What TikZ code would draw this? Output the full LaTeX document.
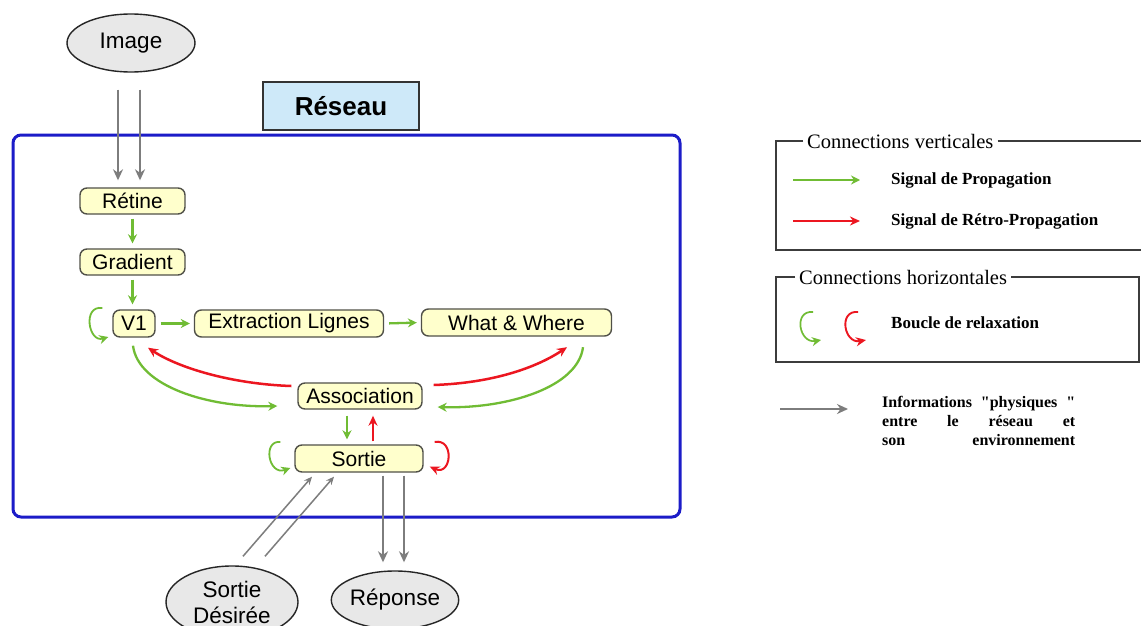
\documentclass[tikz,border=0pt]{standalone}
\usepackage{fontspec}
\setmainfont{Liberation Serif}
\setsansfont{Liberation Sans}
\newfontfamily\infofont{Liberation Serif}[Ligatures=TeXOff]
\usetikzlibrary{arrows.meta,calc,shapes.geometric}

\definecolor{propgreen}{RGB}{112,188,52}
\definecolor{retrored}{RGB}{236,22,32}
\definecolor{physgray}{RGB}{125,125,125}
\definecolor{frameblue}{RGB}{28,28,200}
\definecolor{modfill}{RGB}{255,255,204}
\definecolor{modline}{RGB}{80,80,72}
\definecolor{titlefill}{RGB}{206,233,249}
\definecolor{ovalfill}{RGB}{232,232,232}
\definecolor{legline}{RGB}{60,60,60}

\tikzset{
  module/.style={draw=modline, fill=modfill, line width=1.4pt, rounded corners=7pt,
    inner sep=0pt, font=\sffamily\fontsize{21}{25}\selectfont},
  oval/.style={ellipse, draw=black!85, fill=ovalfill, line width=1.4pt, inner sep=0pt,
    align=center, font=\sffamily\fontsize{22.5}{26}\selectfont},
  prop/.style={draw=propgreen, line width=2.3pt, -{Stealth[length=9pt,width=9pt]}},
  retro/.style={draw=retrored, line width=2.5pt, -{Stealth[length=10pt,width=9pt]}},
  phys/.style={draw=physgray, line width=2.8pt, -{Stealth[length=11pt,width=10pt]}},
  physthin/.style={draw=physgray, line width=1.5pt, -{Stealth[length=8pt,width=7pt]}},
  legframe/.style={draw=legline, line width=1.8pt},
  legtitle/.style={anchor=west, inner xsep=4pt, inner ysep=1pt, fill=white,
    font=\fontsize{20.5}{24}\selectfont},
  legtext/.style={anchor=west, inner sep=0pt, font=\bfseries\fontsize{17}{20}\selectfont},
}

\begin{document}
\begin{tikzpicture}[x=1pt, y=-1pt]
\useasboundingbox[fill=white] (0,0) rectangle (1141,626);

% network frame and its title
\draw[frameblue, line width=3pt, rounded corners=8pt] (13,135) rectangle (680,517);
\node[draw=black!80, fill=titlefill, line width=1.5pt, minimum width=156pt, minimum height=48pt,
  inner sep=0pt, font=\sffamily\bfseries\fontsize{26}{30}\selectfont] (reseau) at (341,106) {Réseau};

% environment ovals
\node[oval, minimum width=128pt, minimum height=58pt] (image) at (131,43) {Image};
\node[oval, minimum width=132pt, minimum height=72pt] (desiree) at (232,602) {Sortie\\Désirée};
\node[oval, minimum width=126pt, minimum height=58pt] (reponse) at (395,600) {Réponse};

% modules of the network
\node[module, minimum width=105pt, minimum height=26pt] (retine) at (132.5,201) {Rétine};
\node[module, minimum width=105pt, minimum height=26pt] (gradient) at (132.5,262) {Gradient};
\node[module, minimum width=42pt, minimum height=27pt] (v1) at (134,323.5) {V1};
\node[module, minimum width=189pt, minimum height=27pt] (extr) at (289,323.5) {Extraction Lignes};
\node[module, minimum width=190pt, minimum height=27pt] (what) at (516.5,322.5) {What \& Where};
\node[module, minimum width=124pt, minimum height=26pt] (assoc) at (360,396) {Association};
\node[module, minimum width=128pt, minimum height=27pt] (sortie) at (359,458.5) {Sortie};

% physical information with the environment
\draw[phys] ($(image.south)+(-13,17)$) -- ($(retine.north)+(-14.5,-7)$);
\draw[phys] ($(image.south)+(9,17)$) -- ($(retine.north)+(7.5,-7)$);
\draw[phys] ($(sortie.south)+(24,3)$) -- ($(reponse.north)+(-12,-8)$);
\draw[phys] ($(sortie.south)+(45,3)$) -- ($(reponse.north)+(9,-8)$);
\draw[physthin] ($(desiree.north)+(11,-9)$) -- ($(sortie.south)+(-47,4)$);
\draw[physthin] ($(desiree.north)+(33,-9)$) -- ($(sortie.south)+(-25,4)$);

% forward propagation
\draw[prop, shorten <=4pt, shorten >=5pt] (retine.south) -- (gradient.north);
\draw[prop, shorten <=4pt, shorten >=5pt] (gradient.south) -- (gradient.south |- v1.north);
\draw[prop, shorten <=5pt, shorten >=4pt] (v1.east) -- (extr.west);
\draw[prop, shorten <=5pt, shorten >=4pt] (extr.east) -- (what.west);
\draw[prop] ($(v1.south)+(-1,8)$) .. controls +(5,40) and +(-70,2) .. ($(assoc.west)+(-20,10)$);
\draw[prop] ($(what.south)+(66.5,10.5)$) .. controls +(-5,40) and +(70,2) .. ($(assoc.east)+(15,11)$);
\draw[prop] ($(assoc.south)+(-13,6)$) -- ($(sortie.north)+(-12,-5)$);

% back propagation
\draw[retro] ($(assoc.west)+(-6,-10)$) .. controls +(-60,-2) and +(30,20) .. ($(v1.south)+(14,10)$);
\draw[retro] ($(assoc.east)+(11,-11)$) .. controls +(60,-2) and +(-30,20) .. ($(what.south)+(50.5,10.5)$);
\draw[retro] ($(sortie.north)+(14,-3)$) -- ($(assoc.south)+(13,6)$);

% relaxation loops
\draw[prop, line width=1.8pt] ($(v1.west)+(-10,-15.5)$) .. controls +(-20,-3) and +(-20,6) .. ($(v1.west)+(-4,13.5)$);
\draw[prop, line width=1.8pt] ($(sortie.west)+(-14,-16.5)$) .. controls +(-18,-2) and +(-22,8) .. ($(sortie.west)+(-4,9.5)$);
\draw[retro, line width=2pt] ($(sortie.east)+(11,-16.5)$) .. controls +(20,-4) and +(22,10) .. ($(sortie.east)+(6,8)$);

% legend: vertical connections
\node[legtitle] (lt1) at (803,141) {Connections verticales};
\draw[legframe] (lt1.west) -- (776,141) -- (776,250) -- (1141,250);
\draw[legframe] (lt1.east) -- (1141,141);
\coordinate (lg1a) at (793,180); \coordinate (lg1b) at (860,180);
\coordinate (lg2a) at (793,221); \coordinate (lg2b) at (860,221);
\draw[prop] (lg1a) -- (lg1b);
\draw[retro] (lg2a) -- (lg2b);
\node[legtext] (lprop) at (891,180) {Signal de Propagation};
\node[legtext] (lretro) at (891,221) {Signal de Rétro-Propagation};

% legend: horizontal connections
\node[legtitle] (lt2) at (795,277) {Connections horizontales};
\draw[legframe] (lt2.west) -- (776,277) -- (776,362) -- (1139,362) -- (1139,277) -- (lt2.east);
\coordinate (lga) at (813,312); \coordinate (lgb) at (821,340);
\coordinate (lgc) at (858,312); \coordinate (lgd) at (866,340);
\draw[prop, line width=1.7pt] (lga) .. controls +(-20,-2) and +(-22,4) .. (lgb);
\draw[retro, line width=1.9pt] (lgc) .. controls +(-20,-2) and +(-22,4) .. (lgd);
\node[legtext] (lboucle) at (891,323) {Boucle de relaxation};

% legend: physical information
\coordinate (lpa) at (780,409); \coordinate (lpb) at (848,409);
\draw[phys, line width=2.4pt] (lpa) -- (lpb);
\node[anchor=north west, inner sep=0pt, align=left, font=\infofont\bfseries\fontsize{16}{19}\selectfont] (linfo) at (882,396)
  {\makebox[193pt][s]{Informations "physiques "}\\
   \makebox[193pt][s]{entre le réseau et}\\
   \makebox[193pt][s]{son environnement}};
\end{tikzpicture}
\end{document}
